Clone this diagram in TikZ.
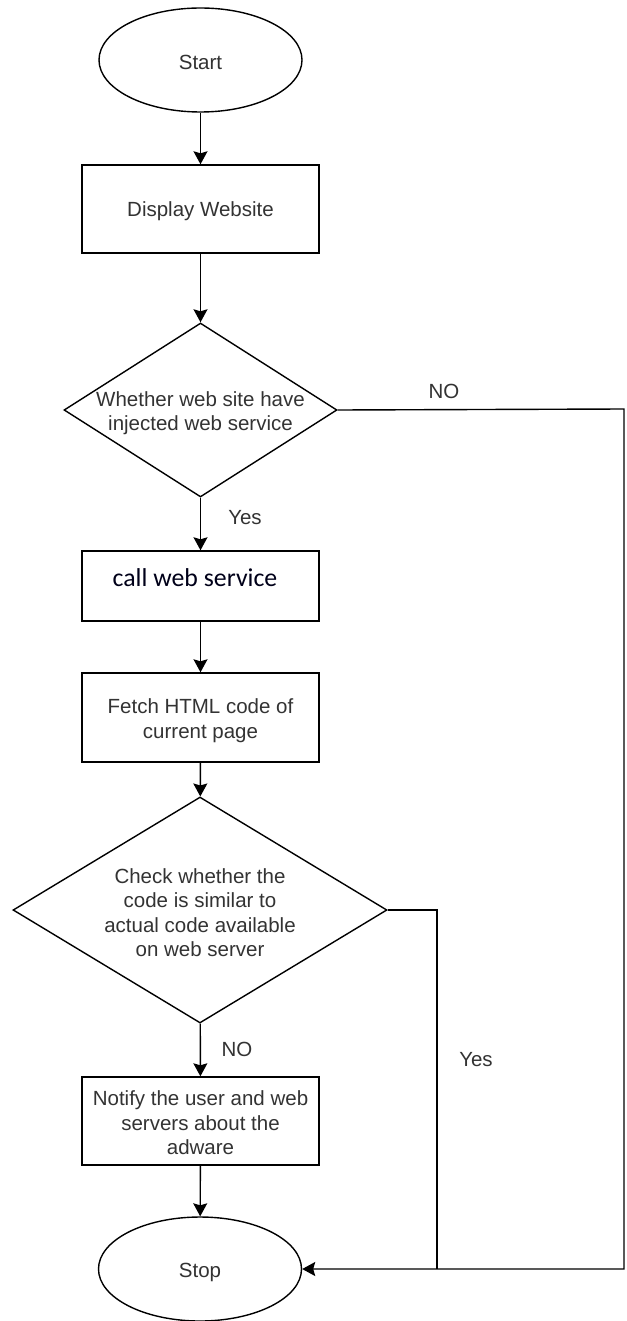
\documentclass[tikz,border=0pt]{standalone}
\usepackage{fontspec}
\setmainfont{Liberation Sans}
\newfontfamily\calfont{Carlito}
\usetikzlibrary{shapes.geometric,arrows.meta}
\definecolor{txt}{gray}{0.2}
\begin{document}
\begin{tikzpicture}[x=1pt,y=-1pt,
  line width=1.4pt,
  every node/.style={font=\fontsize{20.5}{24.5}\selectfont, text=txt, align=center},
  term/.style={draw=black, ellipse, inner sep=0pt, minimum width=203pt, minimum height=104pt},
  proc/.style={draw=black, rectangle, inner sep=0pt, minimum width=237pt},
  dec/.style={draw=black, diamond, inner sep=0pt},
  lbl/.style={inner sep=0pt},
  flow/.style={draw=black, -{Stealth[length=13pt,width=14pt,inset=2pt]}}
]
\useasboundingbox (0,0) rectangle (626,1321);
\fill[white] (0,0) rectangle (626,1321);

\node[term] (start) at (200.5,60) {};
\node[lbl] (startt) at (200.5,62) {Start};

\node[proc, minimum height=88pt] (disp) at (200.5,209) {};
\node[lbl] (dispt) at (200.5,211) {Display Website};

\node[dec, minimum width=273pt, minimum height=174pt] (d1) at (200.5,410) {};
\node[lbl] (d1t) at (200.5,413) {Whether web site have\\injected web service};

\node[proc, minimum height=70pt] (call) at (200.5,586) {};
\node[lbl, text=black!90!blue] (callt) at (195,578) {\calfont\fontsize{25.8}{30}\selectfont call web service};

\node[proc, minimum height=89pt] (fetch) at (200.5,717.5) {};
\node[lbl] (fetcht) at (200.5,720.5) {Fetch HTML code of\\current page};

\node[dec, minimum width=374pt, minimum height=226pt] (d2) at (200,910) {};
\node[lbl] (d2t) at (200,912.5) {Check whether the\\code is similar to\\actual code available\\on web server};

\node[proc, minimum height=88pt] (notify) at (200.5,1121) {};
\node[lbl] (notifyt) at (200.5,1123) {Notify the user and web\\servers about the\\adware};

\node[term] (stop) at (200,1269) {};
\node[lbl] (stopt) at (200,1272) {Stop};

\coordinate (r1) at (624,409);
\coordinate (r2) at (624,1269);
\coordinate (m1) at (437,910);
\coordinate (m2) at (437,1269);

\draw[flow] (start) -- (disp);
\draw[flow] (disp) -- (d1);
\draw[flow] (d1) -- (call);
\draw[flow] (call) -- (fetch);
\draw[flow] (fetch) -- (d2);
\draw[flow] (d2) -- (notify);
\draw[flow] (notify) -- (stop);
\draw[flow] (d1.east) -- (r1) -- (r2) -- (stop.east);
\draw (d2.east) -- (m1) -- (m2);

\node[lbl] (no1) at (444,391) {NO};
\node[lbl] (yes1) at (245,518) {Yes};
\node[lbl] (no2) at (237,1049) {NO};
\node[lbl] (yes2) at (476,1060) {Yes};
\end{tikzpicture}
\end{document}
